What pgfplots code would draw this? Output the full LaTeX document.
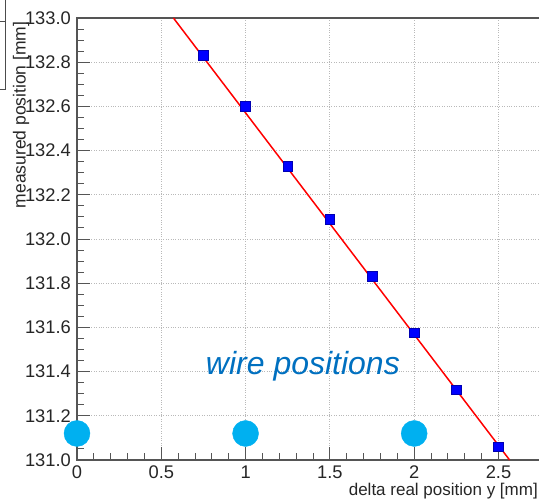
\documentclass[border=0pt]{standalone}
\usepackage{fontspec}
\setmainfont{Liberation Sans}
\usepackage{pgfplots}
\pgfplotsset{compat=1.18}
\definecolor{wirecyan}{HTML}{00B0F0}
\definecolor{wiretext}{HTML}{0070C0}
\definecolor{axisgray}{HTML}{555555}
\begin{document}
\begin{tikzpicture}
\useasboundingbox (0pt,0pt) rectangle (539pt,499pt);
\begin{axis}[
  scale only axis,
  at={(77pt,39pt)}, anchor=south west,
  width=467pt, height=442pt,
  xmin=0, xmax=2.77, ymin=131, ymax=133,
  clip=false,
  axis line style={axisgray, line width=1.2pt},
  xtick={0,0.5,1,1.5,2,2.5},
  xticklabels={0,0.5,1,1.5,2,2.5},
  ytick={131,131.2,131.4,131.6,131.8,132,132.2,132.4,132.6,132.8,133},
  yticklabels={131.0,131.2,131.4,131.6,131.8,132.0,132.2,132.4,132.6,132.8,133.0},
  minor x tick num=4, minor y tick num=3,
  tick align=inside, xtick pos=bottom, ytick pos=left,
  major tick length=13pt, minor tick length=7pt,
  every tick/.style={axisgray, line width=1pt},
  grid=major,
  major grid style={dotted, gray!55, line width=0.9pt},
  /pgf/number format/assume math mode=true,
  tick label style={font=\fontsize{18.3}{20}\selectfont, text=black!85, inner sep=1pt},
  xticklabel style={yshift=-5pt},
  yticklabel style={xshift=-5pt},
]
\addplot[only marks, mark=*, mark size=13pt, color=wirecyan, mark options={fill=wirecyan, draw=wirecyan}]
  coordinates {(0,131.12) (1,131.12) (2,131.12)};
\addplot[red, line width=1.5pt] coordinates {(0.572,133) (2.566,131)};
\addplot[only marks, mark=square*, mark size=4.8pt, mark options={fill=blue, draw=blue!70!black, line width=0.6pt}]
  coordinates {
  (0.75,132.83) (1.0,132.60) (1.25,132.33) (1.5,132.09)
  (1.75,131.83) (2.0,131.575) (2.25,131.317) (2.5,131.06)};
\node[anchor=base, text=wiretext, font=\fontsize{32}{36}\selectfont\itshape] at (axis cs:1.34,131.385) {wire positions};
\end{axis}
\node[rotate=90, anchor=east, font=\fontsize{17.5}{20}\selectfont, text=black!85] at (21pt,481pt) {measured position [mm]};
\node[anchor=base east, inner sep=0pt, font=\fontsize{17}{20}\selectfont, text=black!85] at (538pt,4pt) {delta real position y [mm]};
\draw[gray!60!black, line width=1pt] (0pt,477pt) -- (5pt,477pt) (5pt,499pt) -- (5pt,409pt) -- (0pt,409pt);
\end{tikzpicture}
\end{document}
